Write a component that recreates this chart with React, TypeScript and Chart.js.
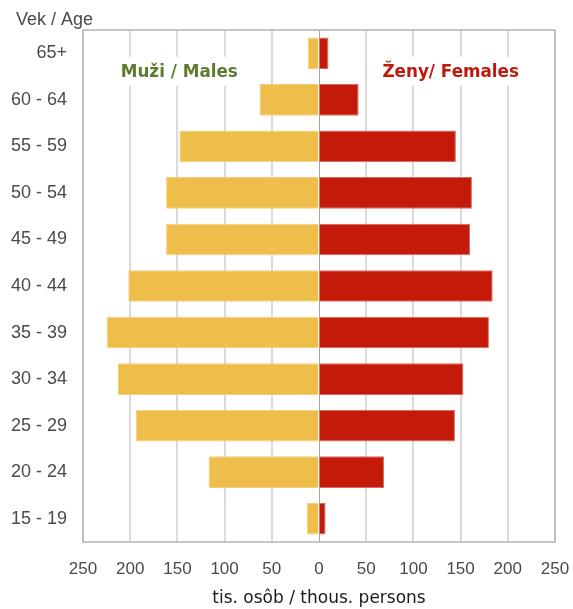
import React, { useEffect, useRef } from "react";
import { Chart, registerables } from "chart.js";

Chart.register(...registerables);

const ageGroups = ["65+", "60 - 64", "55 - 59", "50 - 54", "45 - 49", "40 - 44", "35 - 39", "30 - 34", "25 - 29", "20 - 24", "15 - 19"];
const males = [12, 63, 148, 162, 162, 202, 225, 213, 194, 117, 13];
const females = [10, 42, 145, 162, 160, 184, 180, 153, 144, 69, 7];

const axisMin = -250;
const axisMax = 250;
const axisStep = 50;

const maleLabel = "Muži / Males";
const femaleLabel = "Ženy/ Females";
const yTitle = "Vek / Age";
const xTitle = "tis. osôb / thous. persons";

const MALE_COLOR = "#EFBE4A";
const MALE_BORDER = "#F4D07E";
const FEMALE_COLOR = "#C41A09";
const FEMALE_BORDER = "#DA6A5E";
const TEXT_COLOR = "#4A4A4A";

const textPlugin = {
  id: "pyramidText",
  beforeDatasetsDraw(chart: any) {
    const { ctx, chartArea: a, scales } = chart;
    const xs = scales.x;
    const ys = scales.y;
    const y0 = ys.getPixelForValue(0);
    const y1 = ys.getPixelForValue(1);
    const ty = y0 + (y1 - y0) * 0.42;
    ctx.save();
    ctx.strokeStyle = "#B4B4B4";
    ctx.lineWidth = 1.5;
    ctx.strokeRect(a.left, a.top, a.right - a.left, a.bottom - a.top);
    ctx.font = "bold 16.8px 'DejaVu Sans', sans-serif";
    ctx.textBaseline = "middle";
    ctx.textAlign = "center";
    const drawLabel = (text: string, cx: number, color: string) => {
      const w = ctx.measureText(text).width;
      ctx.fillStyle = "#FFFFFF";
      ctx.fillRect(cx - w / 2 - 10, ty - 16, w + 20, 29);
      ctx.fillStyle = color;
      ctx.fillText(text, cx, ty);
    };
    drawLabel(maleLabel, xs.getPixelForValue(-148), "#5E7A2C");
    drawLabel(femaleLabel, xs.getPixelForValue(139.5), "#C0180C");
    ctx.restore();
  },
  afterDraw(chart: any) {
    const { ctx } = chart;
    ctx.save();
    ctx.font = "18px 'Liberation Sans', Arial, sans-serif";
    ctx.fillStyle = TEXT_COLOR;
    ctx.textAlign = "left";
    ctx.textBaseline = "alphabetic";
    ctx.fillText(yTitle, 16, 25);
    ctx.restore();
  },
};

export default function App() {
  const canvasRef = useRef<HTMLCanvasElement | null>(null);

  useEffect(() => {
    document.body.style.margin = "0";
    const canvas = canvasRef.current;
    if (!canvas) return;
    const chart = new Chart(canvas, {
      type: "bar",
      data: {
        labels: ageGroups,
        datasets: [
          {
            label: maleLabel,
            data: males.map((v) => -v),
            backgroundColor: MALE_COLOR,
            borderColor: MALE_BORDER,
            borderWidth: 1,
            barPercentage: 0.68,
            categoryPercentage: 1,
          },
          {
            label: femaleLabel,
            data: females,
            backgroundColor: FEMALE_COLOR,
            borderColor: FEMALE_BORDER,
            borderWidth: 1,
            barPercentage: 0.68,
            categoryPercentage: 1,
          },
        ],
      },
      options: {
        indexAxis: "y",
        responsive: false,
        animation: false,
        layout: { padding: { top: 30, right: 18, left: 0, bottom: 0 } },
        plugins: {
          legend: { display: false },
          tooltip: { enabled: false },
          title: { display: false },
        },
        scales: {
          x: {
            stacked: true,
            min: axisMin,
            max: axisMax,
            border: { display: false },
            grid: {
              drawTicks: false,
              color: (c: any) => (c.tick && c.tick.value === 0 ? "#A6A6A6" : "#DADADA"),
              lineWidth: (c: any) => (c.tick && c.tick.value === 0 ? 1 : 2),
            },
            ticks: {
              stepSize: axisStep,
              padding: 17,
              color: TEXT_COLOR,
              font: { family: "'Liberation Sans', Arial, sans-serif", size: 17 },
              callback: (v: any) => String(Math.abs(Number(v))),
              maxRotation: 0,
              autoSkip: false,
            },
            title: {
              display: true,
              text: xTitle,
              color: "#1A1A1A",
              font: { family: "'DejaVu Sans', sans-serif", size: 17 },
              padding: { top: 0, bottom: 0 },
            },
            afterFit: (s: any) => {
              s.height = 67;
              s.paddingLeft = 0;
              s.paddingRight = 0;
            },
          },
          y: {
            stacked: true,
            border: { display: false },
            grid: { display: false, drawTicks: false },
            ticks: {
              padding: 16,
              color: TEXT_COLOR,
              font: { family: "'Liberation Sans', Arial, sans-serif", size: 18 },
              autoSkip: false,
            },
            afterFit: (s: any) => {
              s.width = 83;
              s.paddingTop = 0;
              s.paddingBottom = 0;
            },
          },
        },
      },
      plugins: [textPlugin],
    });
    return () => chart.destroy();
  }, []);

  return (
    <div style={{ width: 573, height: 609 }}>
      <canvas ref={canvasRef} width={573} height={609} style={{ display: "block" }} />
    </div>
  );
}
